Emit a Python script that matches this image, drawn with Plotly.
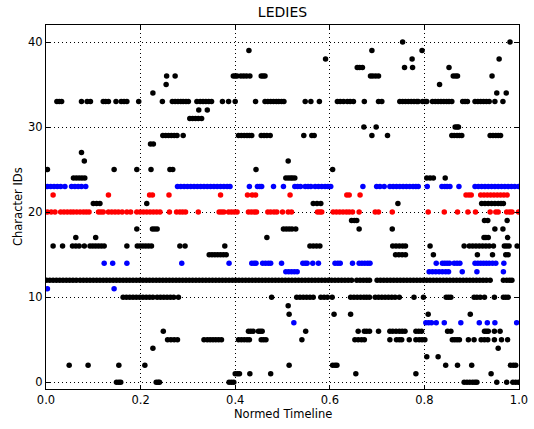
import plotly.graph_objects as go

# ---------------- data (normed time positions per character ID) ----------------
k0 = [0.149, 0.154, 0.158, 0.233, 0.237, 0.240, 0.387, 0.392, 0.397, 0.884, 0.890, 0.896, 0.902, 0.907, 0.911, 0.953, 0.974, 0.987, 0.993, 0.999]
k1 = [0.400, 0.405, 0.409, 0.431, 0.475, 0.655, 0.782, 0.941]
k2 = [0.049, 0.089, 0.154, 0.209, 0.514, 0.606, 0.611, 0.615, 0.845, 0.870, 0.900, 0.982, 0.988, 0.993]
k3 = [0.805, 0.829]
k4 = [0.226, 0.956]
k5 = [0.257, 0.264, 0.271, 0.278, 0.334, 0.341, 0.347, 0.353, 0.359, 0.365, 0.371, 0.407, 0.413, 0.419, 0.425, 0.430,
      0.455, 0.460, 0.465, 0.541, 0.653, 0.660, 0.667, 0.673, 0.727, 0.741, 0.747, 0.752, 0.768, 0.782, 0.789, 0.795,
      0.801, 0.859, 0.864, 0.869, 0.874, 0.893, 0.905, 0.920, 0.927, 0.934, 0.948, 0.963, 0.976]
k6 = [0.248, 0.428, 0.433, 0.438, 0.449, 0.453, 0.457, 0.549, 0.660, 0.673, 0.678, 0.684, 0.703, 0.727, 0.733, 0.740,
      0.747, 0.753, 0.759, 0.782, 0.788, 0.794, 0.849, 0.856, 0.927, 0.931, 0.935, 0.948, 0.960]
k8 = [0.514, 0.609, 0.644, 0.808, 0.897]
k9 = [0.512]
k10 = [0.163, 0.170, 0.177, 0.184, 0.191, 0.198, 0.205, 0.212, 0.219, 0.226, 0.235, 0.242, 0.249, 0.256, 0.263, 0.270,
       0.280, 0.477, 0.530, 0.537, 0.544, 0.551, 0.558, 0.565, 0.581, 0.588, 0.595, 0.605, 0.644, 0.651, 0.658, 0.665,
       0.672, 0.678, 0.684, 0.696, 0.703, 0.710, 0.717, 0.724, 0.731, 0.738, 0.747, 0.778, 0.798, 0.846, 0.851, 0.856,
       0.905, 0.911, 0.918, 0.927, 0.948, 0.967, 0.972, 0.977]
k12 = [0.001, 0.008, 0.015, 0.022, 0.029, 0.036, 0.043, 0.050, 0.057, 0.064, 0.072,
       0.079, 0.086, 0.093, 0.100, 0.107, 0.114, 0.121, 0.128, 0.135, 0.142, 0.149, 0.156, 0.163, 0.170, 0.177, 0.184,
       0.191, 0.198, 0.205, 0.212, 0.219, 0.226, 0.233, 0.240, 0.247, 0.254, 0.261, 0.268, 0.275, 0.282, 0.289, 0.296,
       0.303, 0.310, 0.317, 0.324, 0.331, 0.338, 0.345, 0.352, 0.359, 0.366, 0.373, 0.380, 0.387, 0.394, 0.401, 0.408,
       0.415, 0.422, 0.429, 0.436, 0.443, 0.450, 0.457, 0.464, 0.471, 0.478, 0.485, 0.492, 0.499, 0.506, 0.513, 0.520,
       0.527, 0.534, 0.541, 0.548, 0.555, 0.562, 0.569, 0.576, 0.583, 0.590, 0.597, 0.604, 0.611, 0.618, 0.625, 0.632,
       0.639, 0.646, 0.657, 0.664, 0.671, 0.678, 0.684,
       0.700, 0.707, 0.714, 0.721, 0.728, 0.735, 0.742, 0.749, 0.756, 0.763, 0.770, 0.777, 0.784, 0.791, 0.798, 0.805,
       0.812, 0.819, 0.826, 0.833, 0.840, 0.847, 0.854, 0.861, 0.868, 0.875, 0.882, 0.889, 0.896, 0.903, 0.910, 0.917,
       0.924, 0.931, 0.939, 0.967, 0.974, 0.980, 0.985]
k15 = [0.345, 0.351, 0.357, 0.363, 0.369, 0.375, 0.381, 0.739, 0.746, 0.753, 0.760, 0.819, 0.912, 0.944, 0.972, 0.977]
k16 = [0.015, 0.035, 0.056, 0.063, 0.070, 0.081, 0.093, 0.099, 0.105, 0.111, 0.117, 0.123, 0.171, 0.193, 0.199, 0.205,
       0.211, 0.217, 0.223, 0.283, 0.294, 0.378, 0.558, 0.565, 0.572, 0.579, 0.733, 0.740, 0.747, 0.754, 0.760, 0.812,
       0.884, 0.895, 0.902, 0.909, 0.916, 0.923, 0.930, 0.937, 0.946, 0.969, 0.974, 0.979, 0.996]
k17 = [0.063, 0.105, 0.467, 0.926, 0.930, 0.935, 0.976]
k18 = [0.192, 0.225, 0.230, 0.235, 0.502, 0.508, 0.514, 0.520, 0.528, 0.662, 0.732, 0.949, 0.966]
k19 = [0.646, 0.652, 0.657, 0.927, 0.934, 0.975]
k21 = [0.100, 0.107, 0.114, 0.213, 0.565, 0.573, 0.581, 0.744, 0.921, 0.928, 0.935, 0.942, 0.949, 0.956, 0.962, 0.967]
k24 = [0.058, 0.064, 0.070, 0.076, 0.082, 0.507, 0.512, 0.517, 0.521, 0.526, 0.805, 0.812, 0.819, 0.844]
k25 = [0.003, 0.144, 0.192, 0.222, 0.262, 0.268, 0.444, 0.606]
k26 = [0.081, 0.512]
k27 = [0.075]
k28 = [0.221, 0.227]
k29 = [0.247, 0.253, 0.259, 0.265, 0.271, 0.277, 0.290, 0.407, 0.413, 0.419, 0.425, 0.430, 0.435, 0.455, 0.461, 0.467,
       0.474, 0.545, 0.562, 0.567, 0.689, 0.722, 0.858, 0.863, 0.869, 0.874, 0.879, 0.939, 0.945, 0.951, 0.956, 0.961]
k30 = [0.672, 0.698, 0.865, 0.869, 0.872]
k31 = [0.304, 0.310, 0.316, 0.322, 0.329]
k32 = [0.323, 0.341]
k33 = [0.023, 0.028, 0.033, 0.075, 0.087, 0.094, 0.121, 0.126, 0.132, 0.148, 0.159, 0.165, 0.171, 0.196, 0.246, 0.267,
       0.273, 0.279, 0.285, 0.290, 0.296, 0.301, 0.319, 0.326, 0.332, 0.338, 0.344, 0.350, 0.373, 0.386, 0.400, 0.443,
       0.463, 0.469, 0.475, 0.481, 0.487, 0.492, 0.498, 0.503, 0.548, 0.560, 0.578, 0.616, 0.622, 0.629, 0.637, 0.643,
       0.650, 0.673, 0.703, 0.710, 0.748, 0.754, 0.760, 0.766, 0.772, 0.778, 0.784, 0.787, 0.796, 0.801, 0.805, 0.817,
       0.823, 0.829, 0.835, 0.841, 0.847, 0.852, 0.858, 0.881, 0.886, 0.891, 0.907, 0.913, 0.919, 0.925, 0.931, 0.937,
       0.949, 0.966]
k34 = [0.226, 0.953, 0.973]
k35 = [0.254, 0.832]
k36 = [0.255, 0.273, 0.396, 0.400, 0.404, 0.412, 0.418, 0.424, 0.431, 0.455, 0.459, 0.463, 0.686, 0.691, 0.697, 0.703,
       0.861, 0.866, 0.870, 0.943]
k37 = [0.658, 0.663, 0.669, 0.758, 0.775, 0.852]
k38 = [0.591, 0.774, 0.958]
k39 = [0.429, 0.689, 0.795]
k40 = [0.754, 0.981]

# red characters
r20 = [0.003, 0.011, 0.019, 0.031, 0.038, 0.045, 0.052, 0.058, 0.065, 0.072, 0.079, 0.085, 0.091, 0.111, 0.116, 0.121,
       0.132, 0.139, 0.146, 0.153, 0.161, 0.171, 0.179, 0.192, 0.199, 0.206, 0.213, 0.220, 0.227, 0.234, 0.241, 0.261,
       0.276, 0.283, 0.289, 0.295, 0.322, 0.366, 0.371, 0.376, 0.386, 0.392, 0.398, 0.404, 0.428, 0.434, 0.440, 0.445,
       0.469, 0.475, 0.482, 0.488, 0.500, 0.512, 0.519, 0.574, 0.579, 0.583, 0.607, 0.614, 0.621, 0.628, 0.635, 0.641,
       0.648, 0.662, 0.696, 0.703, 0.732, 0.808, 0.842, 0.870, 0.892, 0.908, 0.939, 0.951, 0.956, 0.974, 0.980, 0.985,
       0.999]
r22 = [0.015, 0.132, 0.219, 0.225, 0.260, 0.369, 0.426, 0.436, 0.443, 0.516, 0.636, 0.641, 0.664, 0.888, 0.894, 0.899,
       0.919, 0.926, 0.933, 0.940, 0.947, 0.954, 0.961, 0.968, 0.975]

# blue characters
b7 = [0.524, 0.803, 0.809, 0.815, 0.825, 0.842, 0.877, 0.916, 0.933, 0.949, 0.995]
b11 = [0.003, 0.144]
b13 = [0.507, 0.513, 0.519, 0.525, 0.531, 0.810, 0.817, 0.824, 0.831, 0.838, 0.845, 0.851, 0.880, 0.911, 0.967]
b14 = [0.123, 0.141, 0.171, 0.287, 0.387, 0.435, 0.440, 0.444, 0.458, 0.464, 0.470, 0.475, 0.498, 0.543, 0.548, 0.552,
       0.564, 0.576, 0.611, 0.617, 0.622, 0.648, 0.662, 0.668, 0.674, 0.680, 0.685, 0.825, 0.838, 0.843, 0.848, 0.853,
       0.863, 0.869, 0.875, 0.907, 0.913, 0.919, 0.925, 0.931, 0.937, 0.944, 0.951, 0.968]
b23 = [0.003, 0.010, 0.017, 0.024, 0.031, 0.040, 0.054, 0.061, 0.068, 0.075, 0.084, 0.278, 0.285, 0.292, 0.299, 0.306,
       0.313, 0.320, 0.327, 0.334, 0.341, 0.348, 0.355, 0.362, 0.369, 0.376, 0.383, 0.389, 0.430, 0.447, 0.452, 0.456,
       0.481, 0.502, 0.526, 0.532, 0.538, 0.548, 0.554, 0.560, 0.569, 0.576, 0.583, 0.590, 0.596, 0.602, 0.670, 0.699,
       0.706, 0.715, 0.727, 0.734, 0.741, 0.748, 0.755, 0.762, 0.769, 0.776, 0.782, 0.787, 0.806, 0.837, 0.843, 0.848,
       0.854, 0.873, 0.907, 0.914, 0.921, 0.928, 0.935, 0.942, 0.949, 0.956, 0.963, 0.970, 0.977, 0.984, 0.991, 0.999]

x_ticks = [0.0, 0.2, 0.4, 0.6, 0.8, 1.0]
y_ticks = [0, 10, 20, 30, 40]

black_rows = {0: k0, 1: k1, 2: k2, 3: k3, 4: k4, 5: k5, 6: k6, 8: k8, 9: k9, 10: k10, 12: k12, 15: k15, 16: k16,
              17: k17, 18: k18, 19: k19, 21: k21, 24: k24, 25: k25, 26: k26, 27: k27, 28: k28, 29: k29, 30: k30,
              31: k31, 32: k32, 33: k33, 34: k34, 35: k35, 36: k36, 37: k37, 38: k38, 39: k39, 40: k40}
red_rows = {20: r20, 22: r22}
blue_rows = {7: b7, 11: b11, 13: b13, 14: b14, 23: b23}


def flatten(rows):
    xs, ys = [], []
    for cid, vals in rows.items():
        xs.extend(vals)
        ys.extend([cid] * len(vals))
    return xs, ys


fig = go.Figure()
for rows, col in [(black_rows, "black"), (red_rows, "#ff0000"), (blue_rows, "#0000ff")]:
    xs, ys = flatten(rows)
    fig.add_trace(go.Scatter(x=xs, y=ys, mode="markers",
                             marker=dict(color=col, size=5.5, symbol="circle", line=dict(width=0)),
                             showlegend=False, hoverinfo="skip", cliponaxis=True))

font = "DejaVu Sans, Liberation Sans, sans-serif"
axis_common = dict(showline=True, linecolor="black", linewidth=1, mirror="allticks",
                   ticks="inside", ticklen=4, tickcolor="black", tickwidth=1,
                   showgrid=True, gridcolor="black", gridwidth=0.6, griddash="1px,3px",
                   zeroline=False, automargin=False,
                   tickfont=dict(family=font, size=11.5, color="black"))

fig.update_xaxes(range=[0, 1], tickvals=x_ticks, ticktext=[f"{v:.1f}" for v in x_ticks], **axis_common)
fig.update_yaxes(range=[-0.8, 42.0], tickvals=y_ticks, ticktext=[str(v) for v in y_ticks], **axis_common)

fig.update_layout(
    width=534, height=429, autosize=False,
    margin=dict(l=46, r=15, t=25, b=40, pad=0),
    paper_bgcolor="white", plot_bgcolor="white",
    font=dict(family=font, color="black"),
    title=dict(text="LEDIES", x=0.5, xanchor="center", xref="paper",
               y=1 - 12 / 429, yref="container", yanchor="middle",
               font=dict(family=font, size=14, color="black")),
    annotations=[
        dict(text="Normed Timeline", xref="paper", yref="paper", x=0.5, y=0, yshift=-25,
             xanchor="center", yanchor="middle", showarrow=False,
             font=dict(family=font, size=11.5, color="black")),
        dict(text="Character IDs", xref="paper", yref="paper", x=0, y=0.5, xshift=-28,
             xanchor="center", yanchor="middle", textangle=-90, showarrow=False,
             font=dict(family=font, size=11.5, color="black")),
    ],
)

fig.write_html("out.html")
